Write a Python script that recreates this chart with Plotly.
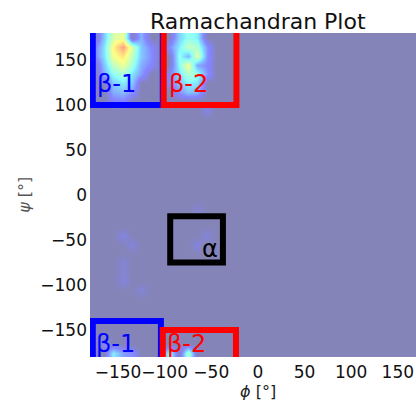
import plotly.graph_objects as go

# ---- data: 2D histogram of (phi, psi), sparse 10-degree bins (normalised counts) ----
phi_bins = [
    -145, -155, -145, -145, -135, -155, -165, -155, -135, -145, -155, -135,
    -145, -155, -135, -145, -155, -135, -145, -155, -135, -165, -165, -165,
    -165, -165, -125, -125, -125, -125, -125, -175, -175, -115, -115, -115,
    -145, -155,
    -75, -65, -75, -65, -75, -65, -85, -85, -85, -75, -65, -85, -75, -65,
    -85, -75, -65, -85, -75, -65, -85, -75, -65, -55, -55, -55, -55, -95,
    -95, -95, -55, -95, -75,
    -155, -145, -135, -165, -125, -145,
    -145, -145, -145, -145, -135,
    -65, -55, -65, -75, -115,
]
psi_bins = [
    165, 165, 155, 175, 165, 155, 175, 175, 155, 145, 145, 145,
    135, 135, 135, 125, 125, 125, 115, 115, 115, 165, 155, 145,
    135, 175, 165, 155, 145, 135, 175, 165, 155, 165, 155, 145,
    105, 105,
    155, 155, 145, 145, 165, 165, 155, 145, 165, 135, 135, 135, 175, 175,
    175, 125, 125, 125, 115, 115, 115, 155, 145, 165, 135, 155,
    145, 165, 125, 135, 95,
    -175, -175, -175, -175, -175, -165,
    -105, -95, -85, -75, -85,
    -45, -55, -55, -45, -15,
]
counts = [
    0.86, 0.66, 0.70, 0.60, 0.55, 0.62, 0.45, 0.55, 0.50, 0.60, 0.50, 0.44,
    0.45, 0.38, 0.32, 0.34, 0.27, 0.26, 0.24, 0.21, 0.16, 0.32, 0.32, 0.26,
    0.21, 0.27, 0.26, 0.26, 0.21, 0.18, 0.22, 0.12, 0.12, 0.13, 0.15, 0.12,
    0.12, 0.10,
    0.66, 0.58, 0.62, 0.52, 0.50, 0.46, 0.40, 0.37, 0.34, 0.47, 0.42, 0.31,
    0.40, 0.35, 0.28, 0.36, 0.32, 0.25, 0.26, 0.23, 0.16, 0.22, 0.20, 0.16,
    0.16, 0.16, 0.13, 0.13, 0.11, 0.11, 0.07,
    0.40, 0.48, 0.34, 0.18, 0.14, 0.10,
    0.05, 0.06, 0.06, 0.05, 0.04,
    0.07, 0.06, 0.06, 0.05, 0.04,
]

# region boxes: (phi0, phi1, psi0, psi1)
box_names = ["β-1", "β-2", "β-1", "β-2", "α"]
box_phi0 = [-177, -101, -177, -102, -94]
box_phi1 = [-102, -23, -104, -23.5, -37.5]
box_psi0 = [100, 100, -200, -200, -75]
box_psi1 = [200, 200, -140, -150, -23.5]
box_colors = ["#0000ff", "#ff0000", "#0000ff", "#ff0000", "#000000"]
label_phi = [-152, -74, -153, -77, -51]
label_psi = [123, 123, -165, -165, -60]

# ---- build grid ----
centers = list(range(-175, 180, 10))
idx = {c: i for i, c in enumerate(centers)}
z = [[0.0 for _ in centers] for _ in centers]
for p, s, c in zip(phi_bins, psi_bins, counts):
    z[idx[s]][idx[p]] = c

jet = [
    [0.0, "rgb(0,0,110)"], [0.11, "rgb(0,0,255)"], [0.125, "rgb(0,0,255)"],
    [0.34, "rgb(0,219,255)"], [0.375, "rgb(20,255,240)"], [0.50, "rgb(130,255,130)"],
    [0.64, "rgb(255,255,0)"], [0.66, "rgb(255,240,0)"], [0.89, "rgb(255,30,0)"],
    [0.91, "rgb(240,0,0)"], [1.0, "rgb(128,0,0)"],
]

fig = go.Figure()
fig.add_trace(go.Heatmap(
    x=centers, y=centers, z=z, zmin=0, zmax=1, colorscale=jet,
    showscale=False, opacity=0.48, zsmooth="best", hoverinfo="skip",
))

for x0, x1, y0, y1, col in zip(box_phi0, box_phi1, box_psi0, box_psi1, box_colors):
    fig.add_shape(type="rect", xref="x", yref="y", x0=x0, x1=x1, y0=y0, y1=y1,
                  line=dict(color=col, width=6), fillcolor="rgba(0,0,0,0)")

for name, lx, ly, col in zip(box_names, label_phi, label_psi, box_colors):
    fig.add_annotation(x=lx, y=ly, xref="x", yref="y", text=name, showarrow=False,
                       font=dict(size=24, color=col, family="DejaVu Sans"),
                       xanchor="center", yanchor="middle")

fig.add_annotation(x=0, y=1.034, xref="x", yref="paper", text="Ramachandran Plot",
                   showarrow=False, font=dict(size=22, color="#111", family="DejaVu Sans"),
                   xanchor="center", yanchor="middle")
fig.add_annotation(x=0, y=-0.108, xref="x", yref="paper", text="<i>ϕ</i> [°]",
                   showarrow=False, font=dict(size=16, color="#222", family="DejaVu Sans"),
                   xanchor="center", yanchor="middle")
fig.add_annotation(x=-0.203, y=0, xref="paper", yref="y", text="<i>ψ</i> [°]", textangle=-90,
                   showarrow=False, font=dict(size=16, color="#555", family="DejaVu Sans"),
                   xanchor="center", yanchor="middle")

fig.update_layout(
    width=416, height=400,
    margin=dict(l=90, r=0, t=33, b=43),
    paper_bgcolor="white", plot_bgcolor="white",
    font=dict(family="DejaVu Sans", size=17, color="#111"),
    showlegend=False,
)
fig.update_xaxes(range=[-180, 169.5], tickvals=[-150, -100, -50, 0, 50, 100, 150],
                 showgrid=False, zeroline=False, showline=False, ticks="",
                 tickangle=0, ticklabelstandoff=3)
fig.update_yaxes(range=[-180, 180], tickvals=[-150, -100, -50, 0, 50, 100, 150],
                 showgrid=False, zeroline=False, showline=False, ticks="",
                 ticklabelstandoff=2)

fig.write_html("out.html", config={"displayModeBar": False})
